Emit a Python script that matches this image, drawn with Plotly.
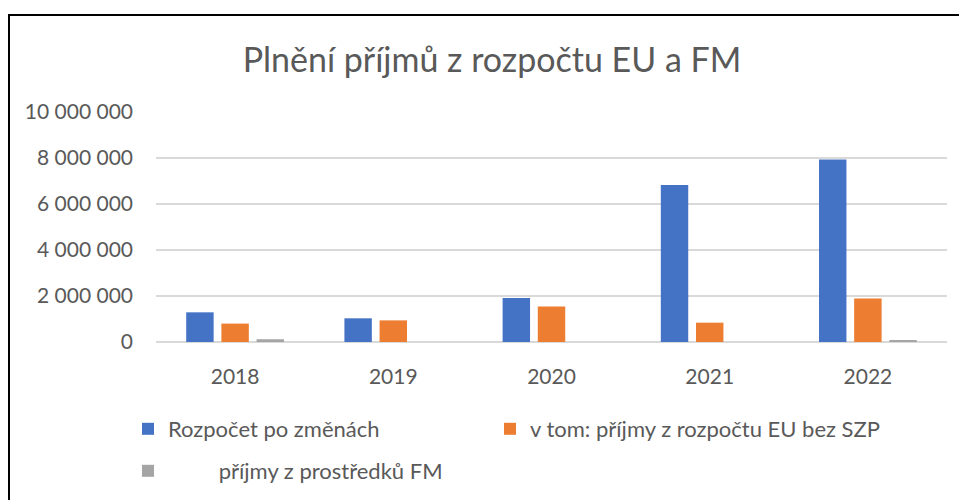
import plotly.graph_objects as go

years = ["2018", "2019", "2020", "2021", "2022"]
rozpocet = [1290000, 1030000, 1910000, 6830000, 7930000]
eu_bez_szp = [800000, 940000, 1540000, 840000, 1890000]
fm = [120000, 0, 0, 0, 70000]

series_names = [
    "Rozpočet po změnách",
    "v tom: příjmy z rozpočtu EU bez SZP",
    "\u00a0" * 9 + "příjmy z prostředků FM",
]
colors = ["#4472C4", "#ED7D31", "#A5A5A5"]
legends = ["legend", "legend3", "legend2"]
tick_vals = [0, 2000000, 4000000, 6000000, 8000000, 10000000]
tick_text = ["0", "2 000 000", "4 000 000", "6 000 000", "8 000 000", "10 000 000"]

FONT = "Lato"
GRAY = "#595959"

fig = go.Figure()
for name, vals, col, lg in zip(series_names, [rozpocet, eu_bez_szp, fm], colors, legends):
    fig.add_trace(go.Bar(x=years, y=vals, name=name, legend=lg,
                         marker=dict(color=col, line=dict(width=0))))

W, H = 967, 500
L, R, T, B = 148, 28, 104, 166
pw, ph = W - L - R, H - T - B

def px_x(x):
    return (x - L) / pw

def px_y(y):
    return (H - B - y) / ph

legend_common = dict(orientation="h", xanchor="left", yanchor="top",
                     font=dict(size=22, color=GRAY), bgcolor="rgba(0,0,0,0)")

fig.update_layout(
    width=W, height=H, autosize=False,
    margin=dict(l=L, r=R, t=T, b=B),
    paper_bgcolor="white", plot_bgcolor="white",
    barmode="group", bargap=0.333, bargroupgap=0.22,
    title=dict(text="Plnění příjmů z rozpočtu EU a FM", x=484 / W, xanchor="center",
               y=1 - 52 / H, yanchor="middle",
               font=dict(family=FONT, size=34, color=GRAY)),
    font=dict(family=FONT, color=GRAY, size=21),
    xaxis=dict(showline=False, ticks="", tickfont=dict(size=21, color=GRAY), showgrid=False,
               ticklabelstandoff=20),
    yaxis=dict(range=[0, 10000000], tickvals=tick_vals, ticktext=tick_text,
               showgrid=True, gridcolor="#D9D9D9", gridwidth=1.5,
               zeroline=True, zerolinecolor="#D9D9D9", zerolinewidth=1.5,
               tickfont=dict(size=21, color=GRAY), ticks="", ticklabelstandoff=22),
    showlegend=True,
    legend=dict(x=px_x(120), y=px_y(400), **legend_common),
    legend3=dict(x=px_x(482), y=px_y(400), **legend_common),
    legend2=dict(x=px_x(120), y=px_y(442), **legend_common),
    shapes=[dict(type="rect", xref="paper", yref="paper",
                 x0=px_x(1), x1=px_x(990), y0=px_y(7), y1=px_y(520),
                 line=dict(color="black", width=2), fillcolor="rgba(0,0,0,0)", layer="above")],
)

fig.write_html("out.html")
